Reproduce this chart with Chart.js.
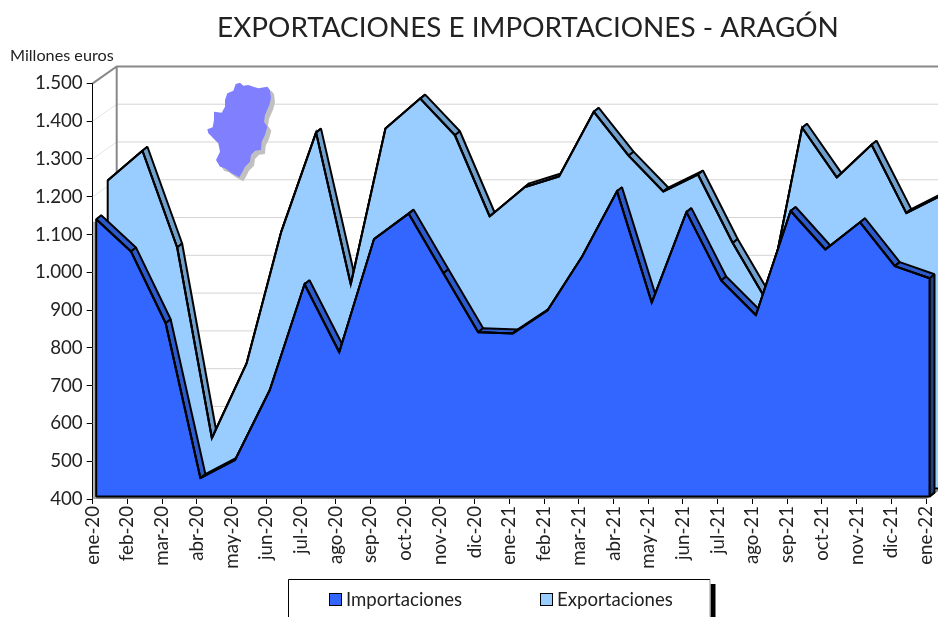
<!DOCTYPE html>
<html>
<head>
<meta charset="utf-8">
<title>Exportaciones e importaciones - Aragón</title>
<script src="https://cdn.jsdelivr.net/npm/chart.js"></script>
<style>
  html, body { margin: 0; padding: 0; background: #fff; overflow: hidden; }
  canvas { display: block; }
</style>
</head>
<body>
<canvas id="grafico" width="938" height="617"></canvas>
<script>
const months = ['ene-20','feb-20','mar-20','abr-20','may-20','jun-20','jul-20','ago-20','sep-20','oct-20','nov-20','dic-20',
  'ene-21','feb-21','mar-21','abr-21','may-21','jun-21','jul-21','ago-21','sep-21','oct-21','nov-21','dic-21','ene-22'];
const importaciones = [1134,1049,859,449,497,682,962,782,1081,1149,991,835,832,893,1036,1208,913,1153,972,880,1156,1054,1126,1010,978];
const exportaciones = [1215,1294,1038,533,731,1080,1342,940,1353,1432,1335,1120,1197,1226,1397,1281,1186,1231,1050,893,1355,1223,1310,1129,1175];
const yMin = 400, yMax = 1500, yStep = 100;

// profundidad del grafico 3D
const wall = {dx: 24, dy: -17};
const ridge = {dx: 5, dy: -4};
const shift = [{dx: 3.5, dy: -2.4}, {dx: 15, dy: -10.5}];
const faceColors = ['#3366ff', '#99ccff'];
const ridgeColors = ['#2d5acb', '#6f9fca'];
const sideColors = ['#23407f', '#6f9fca'];
const font = 'Lato';

// silueta de Aragon (imagen decorativa)
const mapaOrigen = [190, 70];
const mapaForma = [[137,42],[150,38],[160,47],[175,45],[190,50],[205,55],[232,50],[240,60],[243,85],[238,105],[225,135],[222,155],[232,170],[225,195],[215,215],[213,240],[195,242],[183,255],[180,275],[165,290],[155,310],[148,322],[125,310],[105,295],[90,290],[78,270],[90,245],[85,220],[55,190],[52,178],[68,172],[72,150],[72,125],[95,128],[105,110],[105,90],[112,70],[130,62]];

function drawMapa(ctx, ox, oy, color) {
  ctx.beginPath();
  mapaForma.forEach(p => ctx.lineTo(mapaOrigen[0] + p[0] / 3 + ox, mapaOrigen[1] + p[1] / 3 + oy));
  ctx.closePath();
  ctx.fillStyle = color;
  ctx.fill();
}

const depthPlugin = {
  id: 'depth',
  afterLayout(chart) {
    // el titulo no esta centrado en el lienzo
    chart.titleBlock.left += 60;
    chart.titleBlock.right += 60;
  },
  beforeDatasetsDraw(chart) {
    const {ctx, chartArea: a, scales: {y}} = chart;
    ctx.save();
    y.ticks.forEach(t => {
      const py = y.getPixelForValue(t.value);
      if (t.value === yMax || t.value === yMin) return;
      ctx.strokeStyle = '#e4e4e4';
      ctx.lineWidth = 1;
      ctx.beginPath();
      ctx.moveTo(a.left, py);
      ctx.lineTo(a.left + wall.dx, py + wall.dy);
      ctx.stroke();
      ctx.strokeStyle = '#d4d4d4';
      ctx.beginPath();
      ctx.moveTo(a.left + wall.dx, py + wall.dy);
      ctx.lineTo(a.right + wall.dx, py + wall.dy);
      ctx.stroke();
    });
    ctx.strokeStyle = '#888';
    ctx.lineWidth = 2;
    ctx.beginPath();
    ctx.moveTo(a.left, a.top);
    ctx.lineTo(a.left + wall.dx, a.top + wall.dy);
    ctx.lineTo(a.right + wall.dx, a.top + wall.dy);
    ctx.moveTo(a.left + wall.dx, a.top + wall.dy);
    ctx.lineTo(a.left + wall.dx, a.bottom + wall.dy);
    ctx.moveTo(a.left, a.bottom - 1);
    ctx.lineTo(a.right, a.bottom - 1);
    ctx.lineTo(a.right + wall.dx, a.bottom + wall.dy);
    ctx.stroke();
    drawMapa(ctx, 4, 4, '#c0c0c0');
    drawMapa(ctx, 0, 0, '#8080ff');
    ctx.restore();
  },
  beforeDatasetDraw(chart, args) {
    const {ctx, chartArea: a} = chart;
    const i = args.index;
    const pts = args.meta.data;
    const last = pts[pts.length - 1];
    ctx.save();
    // franja gris del lateral izquierdo
    if (i === 0) {
      ctx.fillStyle = '#a8a8a8';
      ctx.fillRect(a.left + 0.5, pts[0].y, shift[0].dx, a.bottom - pts[0].y);
    }
    ctx.translate(shift[i].dx, shift[i].dy);
    ctx.strokeStyle = '#000';
    ctx.lineWidth = 2;
    ctx.lineJoin = 'bevel';
    // cara derecha
    ctx.beginPath();
    ctx.moveTo(last.x, last.y);
    ctx.lineTo(last.x + ridge.dx, last.y + ridge.dy);
    ctx.lineTo(last.x + ridge.dx, a.bottom + ridge.dy);
    ctx.lineTo(last.x, a.bottom);
    ctx.closePath();
    ctx.fillStyle = sideColors[i];
    ctx.fill();
    ctx.stroke();
    // crestas
    for (let k = 0; k < pts.length - 1; k++) {
      const p = pts[k], q = pts[k + 1];
      ctx.beginPath();
      ctx.moveTo(p.x, p.y);
      ctx.lineTo(q.x, q.y);
      ctx.lineTo(q.x + ridge.dx, q.y + ridge.dy);
      ctx.lineTo(p.x + ridge.dx, p.y + ridge.dy);
      ctx.closePath();
      ctx.fillStyle = ridgeColors[i];
      ctx.fill();
      ctx.stroke();
    }
    // cara frontal
    ctx.beginPath();
    ctx.moveTo(pts[0].x, a.bottom);
    pts.forEach(p => ctx.lineTo(p.x, p.y));
    ctx.lineTo(last.x, a.bottom);
    ctx.closePath();
    ctx.fillStyle = faceColors[i];
    ctx.fill();
    ctx.stroke();
    // la linea del dataset se dibuja con la misma traslacion
  },
  afterDatasetDraw(chart) {
    chart.ctx.restore();
  },
  afterDraw(chart) {
    const {ctx} = chart;
    ctx.save();
    // caja de la leyenda
    ctx.fillStyle = '#000';
    ctx.fillRect(710.5, 584, 5, 40);
    ctx.fillStyle = '#fff';
    ctx.fillRect(288.5, 579.5, 421.5, 40);
    ctx.strokeStyle = '#000';
    ctx.lineWidth = 1;
    ctx.beginPath();
    ctx.moveTo(288.5, 617);
    ctx.lineTo(288.5, 579.5);
    ctx.lineTo(710, 579.5);
    ctx.stroke();
    ctx.strokeStyle = '#999';
    ctx.beginPath();
    ctx.moveTo(710, 579.5);
    ctx.lineTo(710, 617);
    ctx.stroke();
    const xs = [329, 540];
    chart.data.datasets.forEach((ds, i) => {
      ctx.fillStyle = ds.backgroundColor;
      ctx.strokeStyle = '#000';
      ctx.lineWidth = 1;
      ctx.fillRect(xs[i] + 0.5, 593.5, 12, 12);
      ctx.strokeRect(xs[i] + 0.5, 593.5, 12, 12);
      ctx.fillStyle = '#222';
      ctx.font = '18.6px ' + font;
      ctx.textBaseline = 'middle';
      ctx.fillText(ds.label, xs[i] + 17, 600);
    });
    ctx.restore();
  }
};

new Chart(document.getElementById('grafico'), {
  type: 'line',
  data: {
    labels: months,
    datasets: [
      {label: 'Importaciones', data: importaciones, borderColor: '#000', backgroundColor: faceColors[0], borderWidth: 2, fill: false, pointRadius: 0, tension: 0, clip: false},
      {label: 'Exportaciones', data: exportaciones, borderColor: '#000', backgroundColor: faceColors[1], borderWidth: 2, fill: false, pointRadius: 0, tension: 0, clip: false}
    ]
  },
  plugins: [depthPlugin],
  options: {
    responsive: false,
    animation: false,
    layout: {autoPadding: false, padding: {left: 10, right: 12, top: 0, bottom: 0}},
    plugins: {
      legend: {display: false},
      tooltip: {enabled: false},
      title: {
        display: true,
        text: 'EXPORTACIONES E IMPORTACIONES - ARAGÓN',
        color: '#222',
        font: {family: font, size: 27.9, weight: 'normal', lineHeight: 1.2},
        padding: {top: 11, bottom: 1.5}
      },
      subtitle: {
        display: true,
        text: 'Millones euros',
        align: 'start',
        color: '#222',
        font: {family: font, size: 16.2, weight: 'normal', lineHeight: 1.2},
        padding: {top: 0, bottom: 18}
      }
    },
    scales: {
      x: {
        grid: {drawOnChartArea: false, drawTicks: true, tickLength: 5, tickColor: '#000'},
        border: {display: false},
        ticks: {color: '#222', font: {family: font, size: 18.7}, minRotation: 90, maxRotation: 90, autoSkip: false, padding: 2},
        afterFit(s) { s.height = 118; s.paddingRight = 0; s.paddingLeft = 0; }
      },
      y: {
        min: yMin,
        max: yMax,
        grid: {drawOnChartArea: false, drawTicks: true, tickLength: 6, tickColor: '#000'},
        border: {display: true, color: '#000', width: 1},
        ticks: {
          stepSize: yStep,
          color: '#222',
          font: {family: font, size: 18.7},
          padding: 4,
          callback: v => String(v).replace(/\B(?=\d{3}$)/, '.')
        },
        afterFit(s) { s.width = 82.7; }
      }
    }
  }
});
</script>
</body>
</html>
